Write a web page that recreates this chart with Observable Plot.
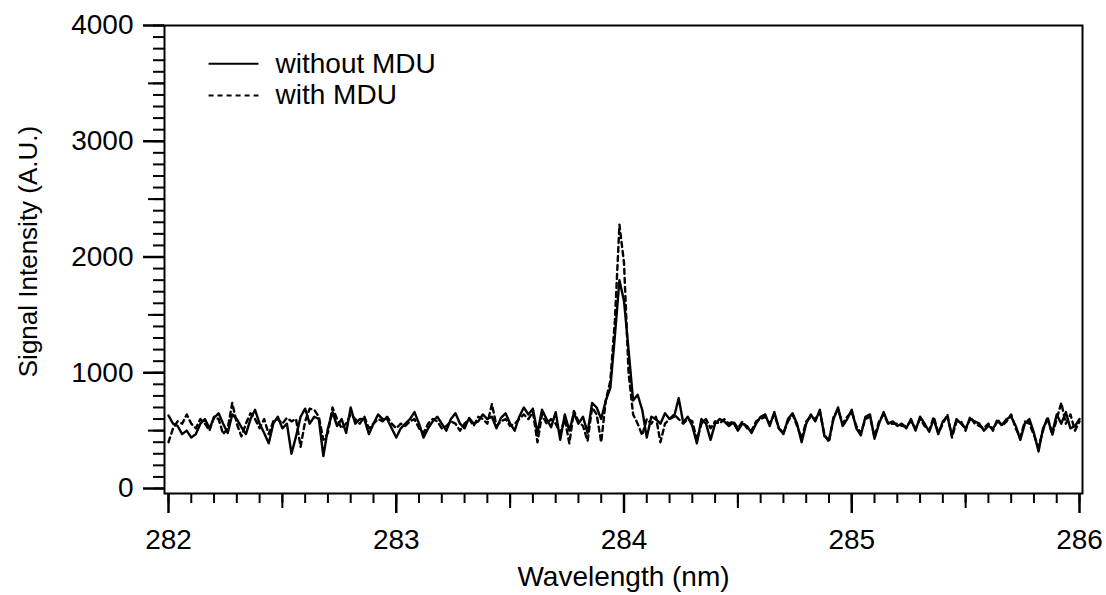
<!DOCTYPE html>
<html><head><meta charset="utf-8">
<script src="https://cdn.jsdelivr.net/npm/d3@7"></script>
<script src="https://cdn.jsdelivr.net/npm/@observablehq/plot@0.6"></script>
<style>body{margin:0;background:#fff}</style>
</head><body><div id="chart"></div>
<script>
// sampling grid of the spectra (nm)
const wavelengthStart = 282;
const wavelengthStep = 0.02;

// Signal intensity without MDU (solid)
const withoutMDU = [
630,560,540,470,500,440,470,560,600,520,
610,650,560,480,640,600,530,470,600,680,
560,480,390,560,620,520,560,300,450,620,
690,560,620,600,280,520,660,540,600,480,
700,560,600,600,470,560,640,600,600,520,
440,520,560,600,660,560,440,520,580,620,
560,500,600,650,560,520,610,560,580,640,
600,620,520,610,650,560,500,620,700,640,
690,480,680,600,530,660,420,640,500,650,
560,620,480,740,700,600,760,870,1320,1800,
1620,1200,760,810,680,440,620,600,560,650,
600,620,780,570,620,540,390,600,560,420,
560,600,580,540,570,500,560,540,480,560,
620,640,540,660,520,470,600,650,560,400,
560,640,580,680,450,420,600,700,540,600,
680,520,460,620,640,430,560,660,560,580,
540,560,520,600,500,620,560,490,600,470,
580,620,460,600,560,520,600,580,560,500,
540,520,580,550,600,620,540,420,560,600,
480,320,520,600,480,640,560,660,520,540,
600
];

// Signal intensity with MDU (dashed)
const withMDU = [
400,520,580,560,640,560,520,600,560,500,
620,600,470,520,740,560,450,560,650,600,
520,600,470,580,600,560,610,580,600,360,
580,690,680,620,420,480,700,600,520,560,
640,600,560,620,520,560,600,580,620,560,
520,560,540,580,600,520,480,560,600,580,
520,540,580,560,500,560,600,540,620,600,
560,730,540,580,600,540,560,600,640,600,
660,400,640,560,600,560,480,600,390,670,
580,540,410,700,640,400,760,930,1450,2280,
1950,1000,640,560,460,600,560,620,400,560,
600,640,600,560,600,580,420,560,600,520,
580,560,600,560,580,520,580,520,500,580,
600,620,560,640,520,480,580,640,540,430,
580,620,600,660,470,400,620,680,560,620,
660,540,480,600,620,450,580,640,560,560,
560,540,540,580,520,600,540,500,620,480,
560,640,440,580,580,500,620,560,540,520,
560,500,600,540,580,640,520,440,580,560,
460,360,500,620,460,600,740,560,640,500,
580
];

const seriesNames = ["without MDU", "with MDU"];
const xMajorTicks = [282, 283, 284, 285, 286];
const yMajorTicks = [0, 1000, 2000, 3000, 4000];
const xLabel = "Wavelength (nm)";
const yLabel = "Signal Intensity (A.U.)";

const solid = withoutMDU.map((v, i) => ({x: wavelengthStart + i * wavelengthStep, y: v}));
const dashed = withMDU.map((v, i) => ({x: wavelengthStart + i * wavelengthStep, y: v}));

const xMinor = d3.range(0, 41).map(i => 282 + i / 10);
const xMid = d3.range(0, 4).map(i => 282.5 + i);
const yMinor = d3.range(0, 41).map(i => i * 100);
const yMid = d3.range(0, 4).map(i => 500 + i * 1000);

const dash = "5,4";
const font = "'Liberation Sans', Arial, sans-serif";

const chart = Plot.plot({
  width: 1106,
  height: 595,
  marginLeft: 164,
  marginRight: 24,
  marginTop: 25,
  marginBottom: 102,
  style: {fontFamily: font, fontSize: "28px", color: "black", background: "white"},
  x: {domain: [282, 286], range: [168, 1079]},
  y: {domain: [0, 4000], range: [488, 25]},
  marks: [
    Plot.line(solid, {x: "x", y: "y", stroke: "black", strokeWidth: 2.4}),
    Plot.line(dashed, {x: "x", y: "y", stroke: "black", strokeWidth: 2.4, strokeDasharray: dash}),
    Plot.frame({stroke: "black", strokeWidth: 2}),
    Plot.axisX(xMinor, {tickSize: 10, tickFormat: () => "", strokeWidth: 2, label: null}),
    Plot.axisX(xMid, {tickSize: 15, tickFormat: () => "", strokeWidth: 2, label: null}),
    Plot.axisX(xMajorTicks, {tickSize: 20, tickPadding: 16, tickFormat: d => String(d), strokeWidth: 2.5, label: null}),
    Plot.axisY(yMinor, {tickSize: 11, tickFormat: () => "", strokeWidth: 2, label: null}),
    Plot.axisY(yMid, {tickSize: 16, tickFormat: () => "", strokeWidth: 2, label: null}),
    Plot.axisY(yMajorTicks, {tickSize: 21, tickPadding: 10, tickFormat: d => String(d), strokeWidth: 2.5, label: null}),
    Plot.text([xLabel], {frameAnchor: "bottom", dy: 84, lineAnchor: "middle", textAnchor: "middle", fill: "black", fontSize: 28, text: d => d}),
    Plot.text([yLabel], {frameAnchor: "left", dx: -136, dy: -8, rotate: -90, textAnchor: "middle", lineAnchor: "middle", fill: "black", fontSize: 26, text: d => d}),
    // legend
    Plot.link([seriesNames[0]], {x1: 282.176, x2: 282.395, y1: 3670, y2: 3670, stroke: "black", strokeWidth: 2}),
    Plot.link([seriesNames[1]], {x1: 282.176, x2: 282.395, y1: 3395, y2: 3395, stroke: "black", strokeWidth: 2, strokeDasharray: dash}),
    Plot.text([seriesNames[0]], {x: 282.47, y: 3670, text: d => d, textAnchor: "start", fill: "black", fontSize: 28}),
    Plot.text([seriesNames[1]], {x: 282.47, y: 3395, text: d => d, textAnchor: "start", fill: "black", fontSize: 28})
  ]
});
document.getElementById("chart").appendChild(chart);
</script>
</body></html>
